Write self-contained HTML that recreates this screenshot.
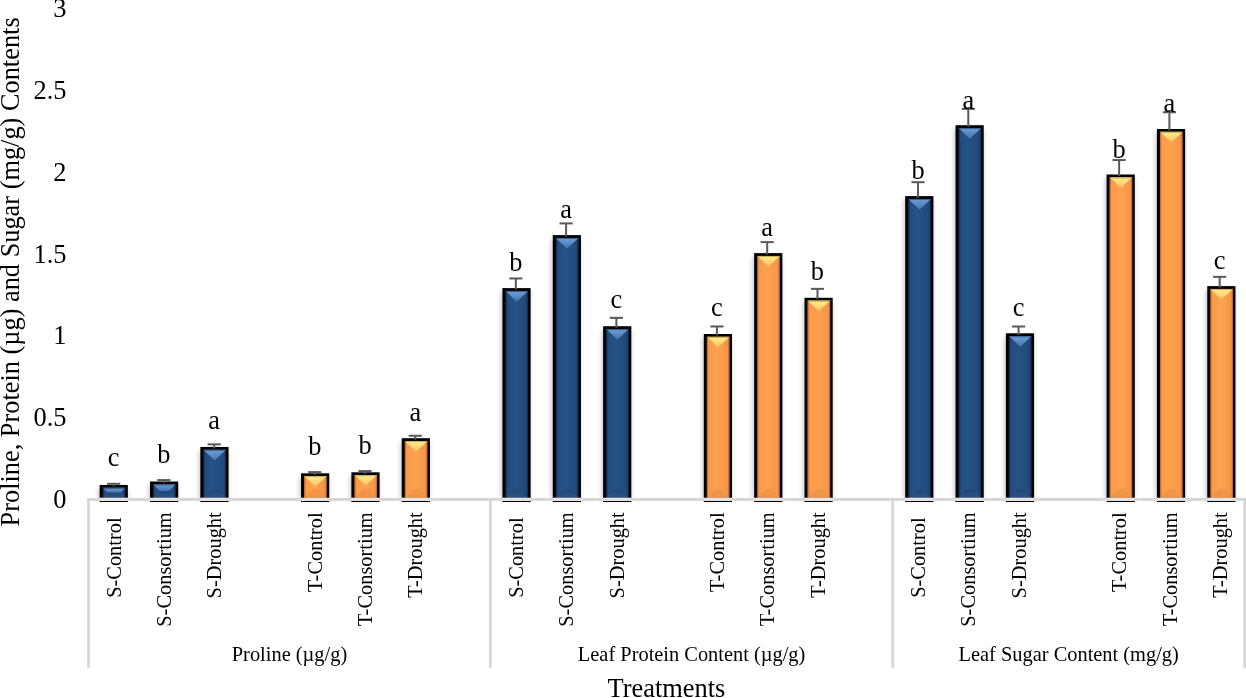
<!DOCTYPE html>
<html><head><meta charset="utf-8"><style>
html,body{margin:0;padding:0;background:#fff;width:1246px;height:698px;overflow:hidden}
svg{display:block;will-change:transform}
text{font-family:"Liberation Serif",serif;fill:#000}
</style></head><body>
<svg width="1246" height="698" viewBox="0 0 1246 698">
<defs>
<filter id="sh" x="-50%" y="-20%" width="200%" height="140%"><feGaussianBlur stdDeviation="2.6"/></filter>
<linearGradient id="bb" x1="0" x2="1" y1="0" y2="0">
<stop offset="0" stop-color="#1b3f6e"/><stop offset="0.12" stop-color="#224c82"/><stop offset="0.45" stop-color="#265387"/><stop offset="0.55" stop-color="#24507f"/><stop offset="0.88" stop-color="#214a7c"/><stop offset="1" stop-color="#1b3e6c"/></linearGradient>
<linearGradient id="bt" x1="0" x2="0" y1="0" y2="1">
<stop offset="0" stop-color="#70a2df"/><stop offset="1" stop-color="#4270aa"/></linearGradient>
<linearGradient id="ob" x1="0" x2="1" y1="0" y2="0">
<stop offset="0" stop-color="#ef8f42"/><stop offset="0.1" stop-color="#fa9b4b"/><stop offset="0.45" stop-color="#fea14e"/><stop offset="0.6" stop-color="#fc9e4c"/><stop offset="0.9" stop-color="#f3964a"/><stop offset="1" stop-color="#e88c42"/></linearGradient>
<linearGradient id="ot" x1="0" x2="0" y1="0" y2="1">
<stop offset="0" stop-color="#fff590"/><stop offset="1" stop-color="#fdba5e"/></linearGradient>
<linearGradient id="bbf" x1="0" x2="0" y1="0" y2="1"><stop offset="0" stop-color="#1f4677"/><stop offset="1" stop-color="#2c5485"/></linearGradient>
<linearGradient id="obf" x1="0" x2="0" y1="0" y2="1"><stop offset="0" stop-color="#f39549"/><stop offset="1" stop-color="#ef9447"/></linearGradient>
</defs>

<text x="66.5" y="508.10" font-size="26.4" text-anchor="end">0</text>
<text x="66.5" y="426.28" font-size="26.4" text-anchor="end">0.5</text>
<text x="66.5" y="344.47" font-size="26.4" text-anchor="end">1</text>
<text x="66.5" y="262.65" font-size="26.4" text-anchor="end">1.5</text>
<text x="66.5" y="180.83" font-size="26.4" text-anchor="end">2</text>
<text x="66.5" y="99.02" font-size="26.4" text-anchor="end">2.5</text>
<text x="66.5" y="17.20" font-size="26.4" text-anchor="end">3</text>
<text transform="translate(19.2,271.9) rotate(-90)" font-size="26.35" text-anchor="middle">Proline, Protein (µg) and Sugar (mg/g) Contents</text>
<rect x="98.46" y="488.45" width="28.599999999999998" height="11.05" fill="#000" opacity="0.24" filter="url(#sh)"/>
<rect x="148.81" y="485.00" width="28.599999999999998" height="14.50" fill="#000" opacity="0.24" filter="url(#sh)"/>
<rect x="199.15" y="450.45" width="28.599999999999998" height="49.05" fill="#000" opacity="0.24" filter="url(#sh)"/>
<rect x="299.84" y="476.80" width="28.599999999999998" height="22.70" fill="#000" opacity="0.24" filter="url(#sh)"/>
<rect x="350.19" y="475.80" width="28.599999999999998" height="23.70" fill="#000" opacity="0.24" filter="url(#sh)"/>
<rect x="400.54" y="441.70" width="28.599999999999998" height="57.80" fill="#000" opacity="0.24" filter="url(#sh)"/>
<rect x="501.23" y="291.60" width="28.599999999999998" height="207.90" fill="#000" opacity="0.24" filter="url(#sh)"/>
<rect x="551.57" y="238.60" width="28.599999999999998" height="260.90" fill="#000" opacity="0.24" filter="url(#sh)"/>
<rect x="601.92" y="329.70" width="28.599999999999998" height="169.80" fill="#000" opacity="0.24" filter="url(#sh)"/>
<rect x="702.61" y="337.50" width="28.599999999999998" height="162.00" fill="#000" opacity="0.24" filter="url(#sh)"/>
<rect x="752.96" y="256.60" width="28.599999999999998" height="242.90" fill="#000" opacity="0.24" filter="url(#sh)"/>
<rect x="803.30" y="301.30" width="28.599999999999998" height="198.20" fill="#000" opacity="0.24" filter="url(#sh)"/>
<rect x="904.00" y="199.60" width="28.599999999999998" height="299.90" fill="#000" opacity="0.24" filter="url(#sh)"/>
<rect x="954.34" y="128.70" width="28.599999999999998" height="370.80" fill="#000" opacity="0.24" filter="url(#sh)"/>
<rect x="1004.69" y="336.80" width="28.599999999999998" height="162.70" fill="#000" opacity="0.24" filter="url(#sh)"/>
<rect x="1105.38" y="178.00" width="28.599999999999998" height="321.50" fill="#000" opacity="0.24" filter="url(#sh)"/>
<rect x="1155.73" y="132.50" width="28.599999999999998" height="367.00" fill="#000" opacity="0.24" filter="url(#sh)"/>
<rect x="1206.07" y="289.60" width="28.599999999999998" height="209.90" fill="#000" opacity="0.24" filter="url(#sh)"/>
<rect x="99.66" y="484.95" width="28.2" height="17.05" fill="#000"/>
<rect x="102.71" y="487.75" width="22.60" height="9.95" fill="url(#bb)"/>
<polygon points="102.71,487.75 125.31,487.75 120.34,492.73 107.69,492.73" fill="url(#bt)"/>
<polygon points="102.71,497.70 125.31,497.70 120.34,492.73 107.69,492.73" fill="url(#bbf)"/>
<rect x="150.01" y="481.50" width="28.2" height="20.50" fill="#000"/>
<rect x="153.06" y="484.30" width="22.60" height="13.40" fill="url(#bb)"/>
<polygon points="153.06,484.30 175.66,484.30 168.96,491.00 159.76,491.00" fill="url(#bt)"/>
<polygon points="153.06,497.70 175.66,497.70 168.96,491.00 159.76,491.00" fill="url(#bbf)"/>
<rect x="200.35" y="446.95" width="28.2" height="55.05" fill="#000"/>
<rect x="203.40" y="449.75" width="22.60" height="47.95" fill="url(#bb)"/>
<polygon points="203.40,449.75 226.00,449.75 214.70,460.49" fill="url(#bt)"/>
<polygon points="203.40,497.70 226.00,497.70 217.50,489.20 211.90,489.20" fill="url(#bbf)"/>
<rect x="301.04" y="473.30" width="28.2" height="28.70" fill="#000"/>
<rect x="304.09" y="476.10" width="22.60" height="21.60" fill="url(#ob)"/>
<polygon points="304.09,476.10 326.69,476.10 315.39,486.84" fill="url(#ot)"/>
<polygon points="304.09,497.70 326.69,497.70 318.19,489.20 312.59,489.20" fill="url(#obf)"/>
<rect x="351.39" y="472.30" width="28.2" height="29.70" fill="#000"/>
<rect x="354.44" y="475.10" width="22.60" height="22.60" fill="url(#ob)"/>
<polygon points="354.44,475.10 377.04,475.10 365.74,485.84" fill="url(#ot)"/>
<polygon points="354.44,497.70 377.04,497.70 368.54,489.20 362.94,489.20" fill="url(#obf)"/>
<rect x="401.74" y="438.20" width="28.2" height="63.80" fill="#000"/>
<rect x="404.79" y="441.00" width="22.60" height="56.70" fill="url(#ob)"/>
<polygon points="404.79,441.00 427.39,441.00 416.09,451.74" fill="url(#ot)"/>
<polygon points="404.79,497.70 427.39,497.70 418.89,489.20 413.29,489.20" fill="url(#obf)"/>
<rect x="502.43" y="288.10" width="28.2" height="213.90" fill="#000"/>
<rect x="505.48" y="290.90" width="22.60" height="206.80" fill="url(#bb)"/>
<polygon points="505.48,290.90 528.08,290.90 516.78,301.64" fill="url(#bt)"/>
<polygon points="505.48,497.70 528.08,497.70 519.58,489.20 513.98,489.20" fill="url(#bbf)"/>
<rect x="552.77" y="235.10" width="28.2" height="266.90" fill="#000"/>
<rect x="555.82" y="237.90" width="22.60" height="259.80" fill="url(#bb)"/>
<polygon points="555.82,237.90 578.42,237.90 567.12,248.63" fill="url(#bt)"/>
<polygon points="555.82,497.70 578.42,497.70 569.92,489.20 564.32,489.20" fill="url(#bbf)"/>
<rect x="603.12" y="326.20" width="28.2" height="175.80" fill="#000"/>
<rect x="606.17" y="329.00" width="22.60" height="168.70" fill="url(#bb)"/>
<polygon points="606.17,329.00 628.77,329.00 617.47,339.74" fill="url(#bt)"/>
<polygon points="606.17,497.70 628.77,497.70 620.27,489.20 614.67,489.20" fill="url(#bbf)"/>
<rect x="703.81" y="334.00" width="28.2" height="168.00" fill="#000"/>
<rect x="706.86" y="336.80" width="22.60" height="160.90" fill="url(#ob)"/>
<polygon points="706.86,336.80 729.46,336.80 718.16,347.54" fill="url(#ot)"/>
<polygon points="706.86,497.70 729.46,497.70 720.96,489.20 715.36,489.20" fill="url(#obf)"/>
<rect x="754.16" y="253.10" width="28.2" height="248.90" fill="#000"/>
<rect x="757.21" y="255.90" width="22.60" height="241.80" fill="url(#ob)"/>
<polygon points="757.21,255.90 779.81,255.90 768.51,266.63" fill="url(#ot)"/>
<polygon points="757.21,497.70 779.81,497.70 771.31,489.20 765.71,489.20" fill="url(#obf)"/>
<rect x="804.50" y="297.80" width="28.2" height="204.20" fill="#000"/>
<rect x="807.55" y="300.60" width="22.60" height="197.10" fill="url(#ob)"/>
<polygon points="807.55,300.60 830.15,300.60 818.85,311.34" fill="url(#ot)"/>
<polygon points="807.55,497.70 830.15,497.70 821.65,489.20 816.05,489.20" fill="url(#obf)"/>
<rect x="905.20" y="196.10" width="28.2" height="305.90" fill="#000"/>
<rect x="908.25" y="198.90" width="22.60" height="298.80" fill="url(#bb)"/>
<polygon points="908.25,198.90 930.85,198.90 919.55,209.63" fill="url(#bt)"/>
<polygon points="908.25,497.70 930.85,497.70 922.35,489.20 916.75,489.20" fill="url(#bbf)"/>
<rect x="955.54" y="125.20" width="28.2" height="376.80" fill="#000"/>
<rect x="958.59" y="128.00" width="22.60" height="369.70" fill="url(#bb)"/>
<polygon points="958.59,128.00 981.19,128.00 969.89,138.73" fill="url(#bt)"/>
<polygon points="958.59,497.70 981.19,497.70 972.69,489.20 967.09,489.20" fill="url(#bbf)"/>
<rect x="1005.89" y="333.30" width="28.2" height="168.70" fill="#000"/>
<rect x="1008.94" y="336.10" width="22.60" height="161.60" fill="url(#bb)"/>
<polygon points="1008.94,336.10 1031.54,336.10 1020.24,346.84" fill="url(#bt)"/>
<polygon points="1008.94,497.70 1031.54,497.70 1023.04,489.20 1017.44,489.20" fill="url(#bbf)"/>
<rect x="1106.58" y="174.50" width="28.2" height="327.50" fill="#000"/>
<rect x="1109.63" y="177.30" width="22.60" height="320.40" fill="url(#ob)"/>
<polygon points="1109.63,177.30 1132.23,177.30 1120.93,188.03" fill="url(#ot)"/>
<polygon points="1109.63,497.70 1132.23,497.70 1123.73,489.20 1118.13,489.20" fill="url(#obf)"/>
<rect x="1156.93" y="129.00" width="28.2" height="373.00" fill="#000"/>
<rect x="1159.98" y="131.80" width="22.60" height="365.90" fill="url(#ob)"/>
<polygon points="1159.98,131.80 1182.58,131.80 1171.28,142.53" fill="url(#ot)"/>
<polygon points="1159.98,497.70 1182.58,497.70 1174.08,489.20 1168.48,489.20" fill="url(#obf)"/>
<rect x="1207.27" y="286.10" width="28.2" height="215.90" fill="#000"/>
<rect x="1210.32" y="288.90" width="22.60" height="208.80" fill="url(#ob)"/>
<polygon points="1210.32,288.90 1232.92,288.90 1221.62,299.64" fill="url(#ot)"/>
<polygon points="1210.32,497.70 1232.92,497.70 1224.42,489.20 1218.82,489.20" fill="url(#obf)"/>
<rect x="103.31" y="488.35" width="21.40" height="9.95" fill="none" stroke="#0a1a33" stroke-opacity="0.45" stroke-width="1.2"/>
<rect x="153.66" y="484.90" width="21.40" height="13.40" fill="none" stroke="#0a1a33" stroke-opacity="0.45" stroke-width="1.2"/>
<rect x="204.00" y="450.35" width="21.40" height="47.95" fill="none" stroke="#0a1a33" stroke-opacity="0.45" stroke-width="1.2"/>
<rect x="304.69" y="476.70" width="21.40" height="21.60" fill="none" stroke="#7a3500" stroke-opacity="0.35" stroke-width="1.2"/>
<rect x="355.04" y="475.70" width="21.40" height="22.60" fill="none" stroke="#7a3500" stroke-opacity="0.35" stroke-width="1.2"/>
<rect x="405.39" y="441.60" width="21.40" height="56.70" fill="none" stroke="#7a3500" stroke-opacity="0.35" stroke-width="1.2"/>
<rect x="506.08" y="291.50" width="21.40" height="206.80" fill="none" stroke="#0a1a33" stroke-opacity="0.45" stroke-width="1.2"/>
<rect x="556.42" y="238.50" width="21.40" height="259.80" fill="none" stroke="#0a1a33" stroke-opacity="0.45" stroke-width="1.2"/>
<rect x="606.77" y="329.60" width="21.40" height="168.70" fill="none" stroke="#0a1a33" stroke-opacity="0.45" stroke-width="1.2"/>
<rect x="707.46" y="337.40" width="21.40" height="160.90" fill="none" stroke="#7a3500" stroke-opacity="0.35" stroke-width="1.2"/>
<rect x="757.81" y="256.50" width="21.40" height="241.80" fill="none" stroke="#7a3500" stroke-opacity="0.35" stroke-width="1.2"/>
<rect x="808.15" y="301.20" width="21.40" height="197.10" fill="none" stroke="#7a3500" stroke-opacity="0.35" stroke-width="1.2"/>
<rect x="908.85" y="199.50" width="21.40" height="298.80" fill="none" stroke="#0a1a33" stroke-opacity="0.45" stroke-width="1.2"/>
<rect x="959.19" y="128.60" width="21.40" height="369.70" fill="none" stroke="#0a1a33" stroke-opacity="0.45" stroke-width="1.2"/>
<rect x="1009.54" y="336.70" width="21.40" height="161.60" fill="none" stroke="#0a1a33" stroke-opacity="0.45" stroke-width="1.2"/>
<rect x="1110.23" y="177.90" width="21.40" height="320.40" fill="none" stroke="#7a3500" stroke-opacity="0.35" stroke-width="1.2"/>
<rect x="1160.58" y="132.40" width="21.40" height="365.90" fill="none" stroke="#7a3500" stroke-opacity="0.35" stroke-width="1.2"/>
<rect x="1210.92" y="289.50" width="21.40" height="208.80" fill="none" stroke="#7a3500" stroke-opacity="0.35" stroke-width="1.2"/>
<rect x="87.15" y="498.0" width="1158.85" height="2.9" fill="#d6d6d6"/>
<rect x="99.66" y="497.7" width="28.2" height="3.2" fill="#e6e4e1"/>
<rect x="150.01" y="497.7" width="28.2" height="3.2" fill="#e6e4e1"/>
<rect x="200.35" y="497.7" width="28.2" height="3.2" fill="#e6e4e1"/>
<rect x="301.04" y="497.7" width="28.2" height="3.2" fill="#e6e4e1"/>
<rect x="351.39" y="497.7" width="28.2" height="3.2" fill="#e6e4e1"/>
<rect x="401.74" y="497.7" width="28.2" height="3.2" fill="#e6e4e1"/>
<rect x="502.43" y="497.7" width="28.2" height="3.2" fill="#e6e4e1"/>
<rect x="552.77" y="497.7" width="28.2" height="3.2" fill="#e6e4e1"/>
<rect x="603.12" y="497.7" width="28.2" height="3.2" fill="#e6e4e1"/>
<rect x="703.81" y="497.7" width="28.2" height="3.2" fill="#e6e4e1"/>
<rect x="754.16" y="497.7" width="28.2" height="3.2" fill="#e6e4e1"/>
<rect x="804.50" y="497.7" width="28.2" height="3.2" fill="#e6e4e1"/>
<rect x="905.20" y="497.7" width="28.2" height="3.2" fill="#e6e4e1"/>
<rect x="955.54" y="497.7" width="28.2" height="3.2" fill="#e6e4e1"/>
<rect x="1005.89" y="497.7" width="28.2" height="3.2" fill="#e6e4e1"/>
<rect x="1106.58" y="497.7" width="28.2" height="3.2" fill="#e6e4e1"/>
<rect x="1156.93" y="497.7" width="28.2" height="3.2" fill="#e6e4e1"/>
<rect x="1207.27" y="497.7" width="28.2" height="3.2" fill="#e6e4e1"/>
<rect x="87.15" y="498.0" width="2.7" height="169.80" fill="#d6d6d6"/>
<rect x="489.10" y="498.0" width="2.7" height="169.80" fill="#d6d6d6"/>
<rect x="891.45" y="498.0" width="2.7" height="169.80" fill="#d6d6d6"/>
<rect x="1243.25" y="498.0" width="2.7" height="169.80" fill="#d6d6d6"/>
<line x1="113.64" y1="483.80" x2="113.64" y2="486.35" stroke="#595959" stroke-width="2"/>
<line x1="107.04" y1="483.80" x2="120.23" y2="483.80" stroke="#595959" stroke-width="2"/>
<line x1="163.91" y1="480.10" x2="163.91" y2="482.90" stroke="#595959" stroke-width="2"/>
<line x1="157.31" y1="480.10" x2="170.51" y2="480.10" stroke="#595959" stroke-width="2"/>
<line x1="214.18" y1="444.35" x2="214.18" y2="448.35" stroke="#595959" stroke-width="2"/>
<line x1="207.58" y1="444.35" x2="220.78" y2="444.35" stroke="#595959" stroke-width="2"/>
<line x1="314.73" y1="472.10" x2="314.73" y2="474.70" stroke="#595959" stroke-width="2"/>
<line x1="308.13" y1="472.10" x2="321.33" y2="472.10" stroke="#595959" stroke-width="2"/>
<line x1="365.00" y1="471.10" x2="365.00" y2="473.70" stroke="#595959" stroke-width="2"/>
<line x1="358.40" y1="471.10" x2="371.61" y2="471.10" stroke="#595959" stroke-width="2"/>
<line x1="415.28" y1="435.75" x2="415.28" y2="439.60" stroke="#595959" stroke-width="2"/>
<line x1="408.68" y1="435.75" x2="421.88" y2="435.75" stroke="#595959" stroke-width="2"/>
<line x1="515.83" y1="278.45" x2="515.83" y2="289.50" stroke="#595959" stroke-width="2"/>
<line x1="509.23" y1="278.45" x2="522.43" y2="278.45" stroke="#595959" stroke-width="2"/>
<line x1="566.10" y1="223.40" x2="566.10" y2="236.50" stroke="#595959" stroke-width="2"/>
<line x1="559.50" y1="223.40" x2="572.70" y2="223.40" stroke="#595959" stroke-width="2"/>
<line x1="616.38" y1="317.85" x2="616.38" y2="327.60" stroke="#595959" stroke-width="2"/>
<line x1="609.77" y1="317.85" x2="622.98" y2="317.85" stroke="#595959" stroke-width="2"/>
<line x1="716.92" y1="326.45" x2="716.92" y2="335.40" stroke="#595959" stroke-width="2"/>
<line x1="710.32" y1="326.45" x2="723.52" y2="326.45" stroke="#595959" stroke-width="2"/>
<line x1="767.20" y1="242.10" x2="767.20" y2="254.50" stroke="#595959" stroke-width="2"/>
<line x1="760.60" y1="242.10" x2="773.80" y2="242.10" stroke="#595959" stroke-width="2"/>
<line x1="817.47" y1="288.85" x2="817.47" y2="299.20" stroke="#595959" stroke-width="2"/>
<line x1="810.87" y1="288.85" x2="824.07" y2="288.85" stroke="#595959" stroke-width="2"/>
<line x1="918.02" y1="182.20" x2="918.02" y2="197.50" stroke="#595959" stroke-width="2"/>
<line x1="911.42" y1="182.20" x2="924.62" y2="182.20" stroke="#595959" stroke-width="2"/>
<line x1="968.29" y1="108.90" x2="968.29" y2="126.60" stroke="#595959" stroke-width="2"/>
<line x1="961.69" y1="108.90" x2="974.89" y2="108.90" stroke="#595959" stroke-width="2"/>
<line x1="1018.57" y1="326.50" x2="1018.57" y2="334.70" stroke="#595959" stroke-width="2"/>
<line x1="1011.97" y1="326.50" x2="1025.17" y2="326.50" stroke="#595959" stroke-width="2"/>
<line x1="1119.12" y1="160.05" x2="1119.12" y2="175.90" stroke="#595959" stroke-width="2"/>
<line x1="1112.52" y1="160.05" x2="1125.71" y2="160.05" stroke="#595959" stroke-width="2"/>
<line x1="1169.39" y1="112.25" x2="1169.39" y2="130.40" stroke="#595959" stroke-width="2"/>
<line x1="1162.79" y1="112.25" x2="1175.99" y2="112.25" stroke="#595959" stroke-width="2"/>
<line x1="1219.66" y1="276.85" x2="1219.66" y2="287.50" stroke="#595959" stroke-width="2"/>
<line x1="1213.06" y1="276.85" x2="1226.26" y2="276.85" stroke="#595959" stroke-width="2"/>
<text x="113.64" y="465.90" font-size="26.4" text-anchor="middle">c</text>
<text x="163.91" y="462.80" font-size="26.4" text-anchor="middle">b</text>
<text x="214.18" y="428.80" font-size="26.4" text-anchor="middle">a</text>
<text x="314.73" y="455.00" font-size="26.4" text-anchor="middle">b</text>
<text x="365.00" y="454.30" font-size="26.4" text-anchor="middle">b</text>
<text x="415.28" y="420.50" font-size="26.4" text-anchor="middle">a</text>
<text x="515.83" y="270.50" font-size="26.4" text-anchor="middle">b</text>
<text x="566.10" y="218.10" font-size="26.4" text-anchor="middle">a</text>
<text x="616.38" y="308.00" font-size="26.4" text-anchor="middle">c</text>
<text x="716.92" y="316.20" font-size="26.4" text-anchor="middle">c</text>
<text x="767.20" y="235.70" font-size="26.4" text-anchor="middle">a</text>
<text x="817.47" y="280.00" font-size="26.4" text-anchor="middle">b</text>
<text x="918.02" y="178.75" font-size="26.4" text-anchor="middle">b</text>
<text x="968.29" y="108.50" font-size="26.4" text-anchor="middle">a</text>
<text x="1018.57" y="316.10" font-size="26.4" text-anchor="middle">c</text>
<text x="1119.12" y="157.60" font-size="26.4" text-anchor="middle">b</text>
<text x="1169.39" y="112.00" font-size="26.4" text-anchor="middle">a</text>
<text x="1219.66" y="268.80" font-size="26.4" text-anchor="middle">c</text>
<text transform="translate(120.84,512.3) rotate(-90)" font-size="20.4" text-anchor="end" xml:space="preserve">S-Control </text>
<text transform="translate(171.11,512.3) rotate(-90)" font-size="20.4" text-anchor="end" xml:space="preserve">S-Consortium</text>
<text transform="translate(221.38,512.3) rotate(-90)" font-size="20.4" text-anchor="end" xml:space="preserve">S-Drought</text>
<text transform="translate(321.93,512.3) rotate(-90)" font-size="20.4" text-anchor="end" xml:space="preserve">T-Control</text>
<text transform="translate(372.20,512.3) rotate(-90)" font-size="20.4" text-anchor="end" xml:space="preserve">T-Consortium</text>
<text transform="translate(422.48,512.3) rotate(-90)" font-size="20.4" text-anchor="end" xml:space="preserve">T-Drought</text>
<text x="289.48" y="660.6" font-size="20.4" text-anchor="middle">Proline (µg/g)</text>
<text transform="translate(523.03,512.3) rotate(-90)" font-size="20.4" text-anchor="end" xml:space="preserve">S-Control </text>
<text transform="translate(573.30,512.3) rotate(-90)" font-size="20.4" text-anchor="end" xml:space="preserve">S-Consortium</text>
<text transform="translate(623.58,512.3) rotate(-90)" font-size="20.4" text-anchor="end" xml:space="preserve">S-Drought</text>
<text transform="translate(724.12,512.3) rotate(-90)" font-size="20.4" text-anchor="end" xml:space="preserve">T-Control</text>
<text transform="translate(774.40,512.3) rotate(-90)" font-size="20.4" text-anchor="end" xml:space="preserve">T-Consortium</text>
<text transform="translate(824.67,512.3) rotate(-90)" font-size="20.4" text-anchor="end" xml:space="preserve">T-Drought</text>
<text x="691.62" y="660.6" font-size="20.4" text-anchor="middle">Leaf Protein Content (µg/g)</text>
<text transform="translate(925.22,512.3) rotate(-90)" font-size="20.4" text-anchor="end" xml:space="preserve">S-Control </text>
<text transform="translate(975.49,512.3) rotate(-90)" font-size="20.4" text-anchor="end" xml:space="preserve">S-Consortium</text>
<text transform="translate(1025.77,512.3) rotate(-90)" font-size="20.4" text-anchor="end" xml:space="preserve">S-Drought</text>
<text transform="translate(1126.32,512.3) rotate(-90)" font-size="20.4" text-anchor="end" xml:space="preserve">T-Control</text>
<text transform="translate(1176.59,512.3) rotate(-90)" font-size="20.4" text-anchor="end" xml:space="preserve">T-Consortium</text>
<text transform="translate(1226.86,512.3) rotate(-90)" font-size="20.4" text-anchor="end" xml:space="preserve">T-Drought</text>
<text x="1068.70" y="660.6" font-size="20.4" text-anchor="middle">Leaf Sugar Content (mg/g)</text>
<text x="666.45" y="696.7" font-size="26.4" text-anchor="middle">Treatments</text>
</svg></body></html>
